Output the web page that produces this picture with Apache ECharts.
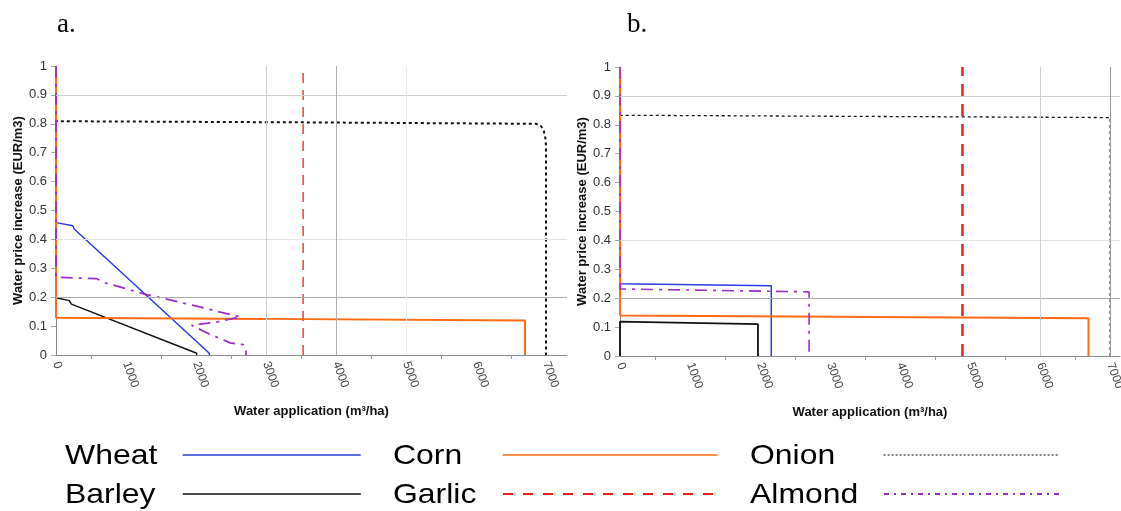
<!DOCTYPE html>
<html>
<head>
<meta charset="utf-8">
<script src="https://cdn.jsdelivr.net/npm/echarts@6/dist/echarts.min.js"></script>
<style>
html,body{margin:0;padding:0;background:#fff;}
#c{width:1121px;height:511px;}
</style>
</head>
<body>
<div id="c"></div>
<script>
// ---------- data (x = water application m3/ha, y = water price increase EUR/m3) ----------
const seriesNames = ['Wheat', 'Barley', 'Corn', 'Garlic', 'Onion', 'Almond'];
const xTickLabels = ['0', '1000', '2000', '3000', '4000', '5000', '6000', '7000'];

// panel a
const wheatA  = [[0,1],[0,0.458],[240,0.447],[260,0.436],[2190,0.006],[2190,0]];
const barleyA = [[0,1],[0,0.198],[190,0.188],[220,0.176],[2010,0.006],[2010,0]];
const cornA   = [[0,1],[0,0.129],[3000,0.125],[6700,0.119],[6700,0]];
const garlicA = [[3530,0],[3530,1]];
const onionA  = [[0,1],[0,0.809],[3500,0.805],[6860,0.800],[6930,0.792],[6970,0.774],[6995,0.745],[7000,0.72],[7000,0]];
const almondA = [[0,1],[0,0.269],[581,0.264],[700,0.250],[1296,0.209],[2010,0.169],[2486,0.140],[2638,0.132],[2295,0.114],[1938,0.103],[2152,0.077],[2486,0.042],[2676,0.036],[2714,0.013],[2714,0]];

// panel b
const wheatB  = [[0,1],[0,0.250],[2160,0.243],[2160,0]];
const barleyB = [[0,0],[0,0.119],[1970,0.110],[1970,0]];
const cornB   = [[0,1],[0,0.140],[6690,0.131],[6690,0]];
const garlicB = [[4890,0],[4890,1]];
const onionB  = [[0,1],[0,0.833],[7000,0.825],[7000,0]];
const almondB = [[0,1],[0,0.232],[2700,0.222],[2700,0]];

// selected reference grid lines
const hGridA = [0.9, 0.4, 0.2];
const vGridA = [3000, 4000, 5000];
const hGridB = [0.9, 0.4, 0.2];
const vGridB = [6000, 7000];

// ---------- styling ----------
const colors = {Wheat:'#2a3be0', Barley:'#111111', Corn:'#ff6a14', Garlic:'#f01e1e', Onion:'#111111', Almond:'#9b30c8'};
const hColor = {0.9:'#cfcfcf', 0.4:'#e2e2e2', 0.2:'#a9a9a9'};
const vColorA = {3000:'#cfcfcf', 4000:'#b0b0b0', 5000:'#ececec'};
const vColorB = {6000:'#cfcfcf', 7000:'#9a9a9a'};

const FONT = '"Liberation Sans", Arial, sans-serif';

function xAxis(gi, max) {
  return {
    type:'value', gridIndex:gi, min:0, max:max, interval:1000,
    name:'Water application (m³/ha)', nameLocation:'middle', nameGap:50,
    nameTextStyle:{fontFamily:FONT, fontWeight:'bold', fontSize:13, color:'#111'},
    axisLine:{show:true, lineStyle:{color:'#8a8a8a', width:1}},
    axisTick:{show:false},
    minorTick:{show:true, splitNumber:2, length:4, lineStyle:{color:'#999'}},
    splitLine:{show:false},
    axisLabel:{rotate:-70, margin:7, fontFamily:FONT, fontSize:12, color:'#444',
      formatter:function(v){ const s=String(v); return xTickLabels.indexOf(s)>=0 ? s : ''; }}
  };
}
function yAxis(gi) {
  return {
    type:'value', gridIndex:gi, min:0, max:1, interval:0.1,
    name:'Water price increase (EUR/m3)', nameLocation:'middle', nameGap:31,
    nameTextStyle:{fontFamily:FONT, fontWeight:'bold', fontSize:13, color:'#111'},
    axisLine:{show:true, lineStyle:{color:'#8a8a8a', width:1}},
    axisTick:{show:true, length:5, lineStyle:{color:'#aaa'}},
    splitLine:{show:false},
    axisLabel:{margin:9, fontFamily:FONT, fontSize:13, color:'#333'}
  };
}

function gridSeries(gi, hs, vs, vColor) {
  const data = [];
  hs.forEach(v => data.push({yAxis:v, lineStyle:{color:hColor[v], width:1, type:'solid'}}));
  vs.forEach(v => data.push({xAxis:v, lineStyle:{color:vColor[v], width:1, type:'solid'}}));
  return {type:'line', xAxisIndex:gi, yAxisIndex:gi, data:[], z:1, silent:true,
    markLine:{symbol:'none', silent:true, label:{show:false}, animation:false, data:data}};
}

function line(name, gi, data, style) {
  return {name:name, type:'line', xAxisIndex:gi, yAxisIndex:gi, data:data,
    symbol:'none', showSymbol:false, z:3, animation:false,
    lineStyle:Object.assign({color:colors[name]}, style),
    itemStyle:{color:colors[name]}};
}

const series = [
  gridSeries(0, hGridA, vGridA, vColorA),
  gridSeries(1, hGridB, vGridB, vColorB),
  line('Wheat', 0, wheatA, {width:1.5}),
  line('Barley', 0, barleyA, {width:1.4}),
  line('Garlic', 0, garlicA, {width:1.3, type:[10,7]}),
  line('Onion', 0, onionA, {width:2, type:[3,3]}),
  line('Corn', 0, cornA, {width:2}),
  line('Almond', 0, almondA, {width:1.8, type:[12,6,3,6]}),
  line('Wheat', 1, wheatB, {width:1.5}),
  line('Barley', 1, barleyB, {width:1.8}),
  line('Garlic', 1, garlicB, {width:2.5, type:[12,8]}),
  line('Onion', 1, onionB, {width:1.3, type:[3,3]}),
  line('Corn', 1, cornB, {width:2}),
  line('Almond', 1, almondB, {width:1.6, type:[12,6,3,6]})
];

// legend layout: [name, textLeft, rowCenterY, lineLeft, lineLength, legendLineStyle]
const legendItems = [
  ['Wheat', 65, 455, 182, 178, {width:1.3, type:'solid'}],
  ['Corn', 393, 455, 502, 215, {width:1.3, type:'solid'}],
  ['Onion', 750, 455, 883, 175, {width:1.2, type:[2,2], color:'#000'}],
  ['Barley', 65, 494, 182, 178, {width:1.6, type:'solid'}],
  ['Garlic', 393, 494, 502, 215, {width:2, type:[10,10]}],
  ['Almond', 750, 494, 883, 175, {width:2, type:[5,5,2,5]}]
];
const legends = legendItems.map(it => ({
  data:[it[0]], left:it[3], top:it[2]-7, orient:'horizontal', align:'left',
  itemWidth:it[4], itemHeight:14, selectedMode:false, padding:0,
  lineStyle:it[5], itemStyle:{opacity:0},
  formatter:function(){ return ''; },
  textStyle:{fontSize:1}
}));
const legendTexts = legendItems.map(it => ({
  type:'text', x:it[1], y:it[2]+1, scaleX:1.14, silent:true,
  style:{text:it[0], fontFamily:FONT, fontSize:28, fill:'#000', verticalAlign:'middle', align:'left'}
}));

const option = {
  animation:false,
  backgroundColor:'#fff',
  title:[
    {text:'a.', left:57, top:11, padding:0, textStyle:{fontFamily:'"Liberation Serif", "DejaVu Serif", serif', fontWeight:'normal', fontSize:27, color:'#000'}},
    {text:'b.', left:627, top:11, padding:0, textStyle:{fontFamily:'"Liberation Serif", "DejaVu Serif", serif', fontWeight:'normal', fontSize:27, color:'#000'}}
  ],
  grid:[
    {left:56, top:66, width:511, height:289, outerBoundsMode:'none', containLabel:false},
    {left:620, top:67, width:500, height:289, outerBoundsMode:'none', containLabel:false}
  ],
  xAxis:[xAxis(0, 7300), xAxis(1, 7140)],
  yAxis:[yAxis(0), yAxis(1)],
  legend:legends,
  graphic:legendTexts,
  series:series
};

const chart = echarts.init(document.getElementById('c'), null, {renderer:'canvas'});
chart.setOption(option);
</script>
</body>
</html>
